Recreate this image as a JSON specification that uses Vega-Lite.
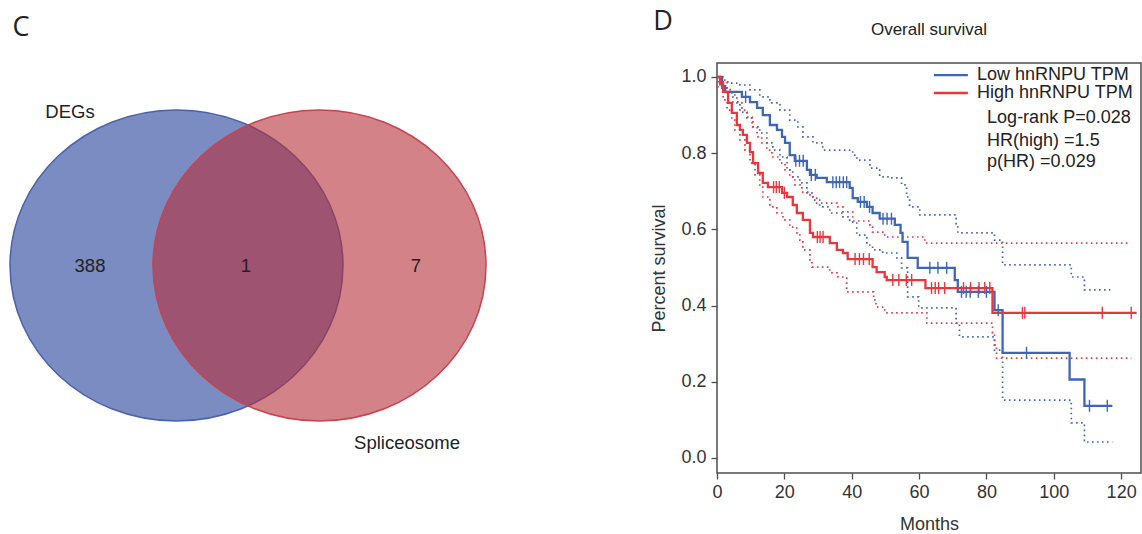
{
  "$schema": "https://vega.github.io/schema/vega-lite/v6.json",
  "padding": 0,
  "bounds": "flush",
  "spacing": 77,
  "config": {
    "font": "Liberation Sans",
    "view": {"stroke": null}
  },
  "datasets": {
    "vframe": [{"x1": 0, "x2": 640, "y1": 0, "y2": 534}],
    "venn": [
      {"set": "DEGs", "cx": 176.5, "cy": 265.5},
      {"set": "Spliceosome", "cx": 319.5, "cy": 265.5}
    ],
    "vlabels": [
      {"kind": "num", "label": "388", "x": 90, "y": 265.5},
      {"kind": "num", "label": "1", "x": 246, "y": 265.5},
      {"kind": "num", "label": "7", "x": 416, "y": 265.5},
      {"kind": "num", "label": "DEGs", "x": 70, "y": 112},
      {"kind": "num", "label": "Spliceosome", "x": 407, "y": 443},
      {"kind": "panel", "label": "C", "x": 21, "y": 28},
      {"kind": "panel", "label": "D", "x": 663, "y": 22}
    ],
    "curves": [
      {"g":"Low","k":"est","t":0,"s":1.0},{"g":"Low","k":"est","t":1.5,"s":0.976},{"g":"Low","k":"est","t":2.4,"s":0.961},{"g":"Low","k":"est","t":7.4,"s":0.948},{"g":"Low","k":"est","t":9.8,"s":0.934},{"g":"Low","k":"est","t":11.9,"s":0.919},{"g":"Low","k":"est","t":13.6,"s":0.900},{"g":"Low","k":"est","t":15.7,"s":0.874},{"g":"Low","k":"est","t":17.8,"s":0.861},{"g":"Low","k":"est","t":19.3,"s":0.843},{"g":"Low","k":"est","t":20.2,"s":0.827},{"g":"Low","k":"est","t":21.6,"s":0.795},{"g":"Low","k":"est","t":23.1,"s":0.780},{"g":"Low","k":"est","t":26.7,"s":0.756},{"g":"Low","k":"est","t":27.6,"s":0.743},{"g":"Low","k":"est","t":29.6,"s":0.735},{"g":"Low","k":"est","t":32.6,"s":0.724},{"g":"Low","k":"est","t":39.4,"s":0.709},{"g":"Low","k":"est","t":40.3,"s":0.682},{"g":"Low","k":"est","t":41.8,"s":0.672},{"g":"Low","k":"est","t":44.5,"s":0.659},{"g":"Low","k":"est","t":46.2,"s":0.643},{"g":"Low","k":"est","t":48.3,"s":0.628},{"g":"Low","k":"est","t":52.8,"s":0.612},{"g":"Low","k":"est","t":54.5,"s":0.591},{"g":"Low","k":"est","t":55.1,"s":0.567},{"g":"Low","k":"est","t":56.6,"s":0.525},{"g":"Low","k":"est","t":59.6,"s":0.499},{"g":"Low","k":"est","t":70.6,"s":0.467},{"g":"Low","k":"est","t":71.5,"s":0.436},{"g":"Low","k":"est","t":82.4,"s":0.388},{"g":"Low","k":"est","t":84.8,"s":0.276},{"g":"Low","k":"est","t":104.7,"s":0.206},{"g":"Low","k":"est","t":109.1,"s":0.137},{"g":"Low","k":"est","t":117.4,"s":0.137},
      {"g":"Low","k":"up","t":0,"s":1.0},{"g":"Low","k":"up","t":1.8,"s":0.987},{"g":"Low","k":"up","t":3.9,"s":0.984},{"g":"Low","k":"up","t":6.8,"s":0.979},{"g":"Low","k":"up","t":9.8,"s":0.966},{"g":"Low","k":"up","t":12.7,"s":0.948},{"g":"Low","k":"up","t":15.7,"s":0.932},{"g":"Low","k":"up","t":18.7,"s":0.913},{"g":"Low","k":"up","t":21.6,"s":0.887},{"g":"Low","k":"up","t":24.0,"s":0.869},{"g":"Low","k":"up","t":25.5,"s":0.843},{"g":"Low","k":"up","t":28.5,"s":0.827},{"g":"Low","k":"up","t":31.4,"s":0.808},{"g":"Low","k":"up","t":40.3,"s":0.795},{"g":"Low","k":"up","t":41.5,"s":0.782},{"g":"Low","k":"up","t":45.4,"s":0.761},{"g":"Low","k":"up","t":48.3,"s":0.738},{"g":"Low","k":"up","t":51.3,"s":0.735},{"g":"Low","k":"up","t":54.8,"s":0.717},{"g":"Low","k":"up","t":56.3,"s":0.685},{"g":"Low","k":"up","t":57.2,"s":0.659},{"g":"Low","k":"up","t":60.2,"s":0.638},{"g":"Low","k":"up","t":71.0,"s":0.612},{"g":"Low","k":"up","t":71.5,"s":0.591},{"g":"Low","k":"up","t":82.4,"s":0.572},{"g":"Low","k":"up","t":84.8,"s":0.507},{"g":"Low","k":"up","t":105.2,"s":0.475},{"g":"Low","k":"up","t":109.1,"s":0.441},{"g":"Low","k":"up","t":116.8,"s":0.441},
      {"g":"Low","k":"lo","t":0,"s":1.0},{"g":"Low","k":"lo","t":0.9,"s":0.971},{"g":"Low","k":"lo","t":3.0,"s":0.948},{"g":"Low","k":"lo","t":4.7,"s":0.932},{"g":"Low","k":"lo","t":6.8,"s":0.908},{"g":"Low","k":"lo","t":8.9,"s":0.892},{"g":"Low","k":"lo","t":10.7,"s":0.869},{"g":"Low","k":"lo","t":12.7,"s":0.853},{"g":"Low","k":"lo","t":14.8,"s":0.827},{"g":"Low","k":"lo","t":16.6,"s":0.808},{"g":"Low","k":"lo","t":18.7,"s":0.790},{"g":"Low","k":"lo","t":20.8,"s":0.756},{"g":"Low","k":"lo","t":22.5,"s":0.738},{"g":"Low","k":"lo","t":24.6,"s":0.722},{"g":"Low","k":"lo","t":26.7,"s":0.696},{"g":"Low","k":"lo","t":28.5,"s":0.677},{"g":"Low","k":"lo","t":30.5,"s":0.659},{"g":"Low","k":"lo","t":33.5,"s":0.643},{"g":"Low","k":"lo","t":37.4,"s":0.633},{"g":"Low","k":"lo","t":39.4,"s":0.619},{"g":"Low","k":"lo","t":41.5,"s":0.585},{"g":"Low","k":"lo","t":44.5,"s":0.559},{"g":"Low","k":"lo","t":46.2,"s":0.546},{"g":"Low","k":"lo","t":49.2,"s":0.538},{"g":"Low","k":"lo","t":53.4,"s":0.525},{"g":"Low","k":"lo","t":54.8,"s":0.499},{"g":"Low","k":"lo","t":56.6,"s":0.423},{"g":"Low","k":"lo","t":59.9,"s":0.394},{"g":"Low","k":"lo","t":71.0,"s":0.354},{"g":"Low","k":"lo","t":72.0,"s":0.318},{"g":"Low","k":"lo","t":82.4,"s":0.283},{"g":"Low","k":"lo","t":84.8,"s":0.152},{"g":"Low","k":"lo","t":105.2,"s":0.092},{"g":"Low","k":"lo","t":109.1,"s":0.042},{"g":"Low","k":"lo","t":117.4,"s":0.042},
      {"g":"High","k":"est","t":0,"s":1.0},{"g":"High","k":"est","t":0.9,"s":0.984},{"g":"High","k":"est","t":1.8,"s":0.961},{"g":"High","k":"est","t":3.3,"s":0.932},{"g":"High","k":"est","t":4.4,"s":0.906},{"g":"High","k":"est","t":5.9,"s":0.874},{"g":"High","k":"est","t":6.8,"s":0.861},{"g":"High","k":"est","t":7.7,"s":0.848},{"g":"High","k":"est","t":8.9,"s":0.827},{"g":"High","k":"est","t":9.8,"s":0.803},{"g":"High","k":"est","t":10.7,"s":0.774},{"g":"High","k":"est","t":12.2,"s":0.748},{"g":"High","k":"est","t":13.6,"s":0.722},{"g":"High","k":"est","t":15.1,"s":0.711},{"g":"High","k":"est","t":19.3,"s":0.696},{"g":"High","k":"est","t":20.8,"s":0.685},{"g":"High","k":"est","t":22.5,"s":0.664},{"g":"High","k":"est","t":23.7,"s":0.643},{"g":"High","k":"est","t":25.5,"s":0.625},{"g":"High","k":"est","t":27.6,"s":0.591},{"g":"High","k":"est","t":28.5,"s":0.580},{"g":"High","k":"est","t":33.5,"s":0.564},{"g":"High","k":"est","t":35.6,"s":0.546},{"g":"High","k":"est","t":37.4,"s":0.538},{"g":"High","k":"est","t":38.8,"s":0.522},{"g":"High","k":"est","t":46.2,"s":0.501},{"g":"High","k":"est","t":47.4,"s":0.488},{"g":"High","k":"est","t":49.8,"s":0.475},{"g":"High","k":"est","t":50.4,"s":0.467},{"g":"High","k":"est","t":61.9,"s":0.446},{"g":"High","k":"est","t":81.8,"s":0.381},{"g":"High","k":"est","t":124.6,"s":0.381},
      {"g":"High","k":"up","t":0,"s":1.0},{"g":"High","k":"up","t":0.9,"s":0.992},{"g":"High","k":"up","t":3.0,"s":0.971},{"g":"High","k":"up","t":3.9,"s":0.958},{"g":"High","k":"up","t":5.3,"s":0.945},{"g":"High","k":"up","t":6.2,"s":0.932},{"g":"High","k":"up","t":7.4,"s":0.913},{"g":"High","k":"up","t":8.9,"s":0.895},{"g":"High","k":"up","t":10.4,"s":0.869},{"g":"High","k":"up","t":11.9,"s":0.843},{"g":"High","k":"up","t":13.3,"s":0.827},{"g":"High","k":"up","t":14.8,"s":0.808},{"g":"High","k":"up","t":16.3,"s":0.790},{"g":"High","k":"up","t":18.7,"s":0.774},{"g":"High","k":"up","t":20.2,"s":0.756},{"g":"High","k":"up","t":21.6,"s":0.738},{"g":"High","k":"up","t":23.1,"s":0.717},{"g":"High","k":"up","t":25.2,"s":0.698},{"g":"High","k":"up","t":27.6,"s":0.685},{"g":"High","k":"up","t":29.6,"s":0.669},{"g":"High","k":"up","t":35.6,"s":0.659},{"g":"High","k":"up","t":37.4,"s":0.646},{"g":"High","k":"up","t":40.3,"s":0.622},{"g":"High","k":"up","t":45.4,"s":0.606},{"g":"High","k":"up","t":46.2,"s":0.593},{"g":"High","k":"up","t":49.8,"s":0.580},{"g":"High","k":"up","t":61.7,"s":0.564},{"g":"High","k":"up","t":122.0,"s":0.564},
      {"g":"High","k":"lo","t":0,"s":1.0},{"g":"High","k":"lo","t":0.3,"s":0.974},{"g":"High","k":"lo","t":1.8,"s":0.940},{"g":"High","k":"lo","t":3.0,"s":0.913},{"g":"High","k":"lo","t":4.4,"s":0.887},{"g":"High","k":"lo","t":5.3,"s":0.861},{"g":"High","k":"lo","t":6.8,"s":0.835},{"g":"High","k":"lo","t":8.3,"s":0.808},{"g":"High","k":"lo","t":9.8,"s":0.774},{"g":"High","k":"lo","t":11.3,"s":0.743},{"g":"High","k":"lo","t":12.7,"s":0.711},{"g":"High","k":"lo","t":13.6,"s":0.685},{"g":"High","k":"lo","t":15.7,"s":0.659},{"g":"High","k":"lo","t":17.8,"s":0.643},{"g":"High","k":"lo","t":19.6,"s":0.625},{"g":"High","k":"lo","t":21.6,"s":0.606},{"g":"High","k":"lo","t":23.7,"s":0.591},{"g":"High","k":"lo","t":24.6,"s":0.572},{"g":"High","k":"lo","t":25.5,"s":0.546},{"g":"High","k":"lo","t":27.6,"s":0.520},{"g":"High","k":"lo","t":28.2,"s":0.501},{"g":"High","k":"lo","t":33.5,"s":0.486},{"g":"High","k":"lo","t":35.9,"s":0.475},{"g":"High","k":"lo","t":38.5,"s":0.436},{"g":"High","k":"lo","t":46.5,"s":0.415},{"g":"High","k":"lo","t":47.2,"s":0.396},{"g":"High","k":"lo","t":49.8,"s":0.381},{"g":"High","k":"lo","t":62.3,"s":0.354},{"g":"High","k":"lo","t":81.8,"s":0.328},{"g":"High","k":"lo","t":82.4,"s":0.297},{"g":"High","k":"lo","t":83.0,"s":0.262},{"g":"High","k":"lo","t":123.0,"s":0.262}
    ],
    "censor": [
      {"g":"Low","t":8.5,"s":0.948},{"g":"Low","t":23.4,"s":0.780},{"g":"Low","t":24.5,"s":0.780},{"g":"Low","t":25.6,"s":0.780},{"g":"Low","t":28.0,"s":0.743},{"g":"Low","t":29.2,"s":0.743},{"g":"Low","t":34.4,"s":0.724},{"g":"Low","t":35.4,"s":0.724},{"g":"Low","t":36.4,"s":0.724},{"g":"Low","t":37.5,"s":0.724},{"g":"Low","t":38.5,"s":0.724},{"g":"Low","t":42.6,"s":0.672},{"g":"Low","t":43.7,"s":0.672},{"g":"Low","t":45.3,"s":0.659},{"g":"Low","t":49.3,"s":0.628},{"g":"Low","t":50.5,"s":0.628},{"g":"Low","t":51.8,"s":0.628},{"g":"Low","t":63.2,"s":0.499},{"g":"Low","t":65.6,"s":0.499},{"g":"Low","t":68.2,"s":0.499},{"g":"Low","t":72.6,"s":0.436},{"g":"Low","t":74.0,"s":0.436},{"g":"Low","t":75.2,"s":0.436},{"g":"Low","t":77.6,"s":0.436},{"g":"Low","t":80.0,"s":0.436},{"g":"Low","t":83.5,"s":0.388},{"g":"Low","t":91.9,"s":0.276},{"g":"Low","t":110.6,"s":0.137},{"g":"Low","t":115.9,"s":0.137},
      {"g":"High","t":16.8,"s":0.711},{"g":"High","t":17.6,"s":0.711},{"g":"High","t":18.5,"s":0.711},{"g":"High","t":20.0,"s":0.696},{"g":"High","t":29.8,"s":0.580},{"g":"High","t":30.6,"s":0.580},{"g":"High","t":31.5,"s":0.580},{"g":"High","t":41.0,"s":0.522},{"g":"High","t":42.3,"s":0.522},{"g":"High","t":43.5,"s":0.522},{"g":"High","t":45.2,"s":0.522},{"g":"High","t":52.2,"s":0.467},{"g":"High","t":54.0,"s":0.467},{"g":"High","t":56.2,"s":0.467},{"g":"High","t":57.8,"s":0.467},{"g":"High","t":63.7,"s":0.446},{"g":"High","t":64.8,"s":0.446},{"g":"High","t":65.8,"s":0.446},{"g":"High","t":67.6,"s":0.446},{"g":"High","t":73.2,"s":0.446},{"g":"High","t":75.3,"s":0.446},{"g":"High","t":77.8,"s":0.446},{"g":"High","t":79.5,"s":0.446},{"g":"High","t":81.0,"s":0.446},{"g":"High","t":90.7,"s":0.381},{"g":"High","t":91.4,"s":0.381},{"g":"High","t":114.4,"s":0.381},{"g":"High","t":123.0,"s":0.381}
    ],
    "legendlines": [
      {"g":"Low","t":64.4,"t2":74.5,"s":1.005},
      {"g":"High","t":64.4,"t2":74.5,"s":0.958}
    ],
    "notes": [
      {"label":"Low hnRNPU TPM","t":77.2,"s":1.005},
      {"label":"High hnRNPU TPM","t":77.2,"s":0.958},
      {"label":"Log-rank P=0.028","t":80.2,"s":0.892},
      {"label":"HR(high) =1.5","t":80.2,"s":0.832},
      {"label":"p(HR) =0.029","t":80.2,"s":0.777}
    ]
  },
  "hconcat": [
    {
      "width": 640,
      "height": 410,
      "view": {"stroke": null},
      "layer": [
        {
          "data": {"name": "vframe"},
          "mark": {"type": "rect", "fill": "#ffffff", "fillOpacity": 0},
          "encoding": {
            "x": {"field": "x1", "type": "quantitative", "scale": {"domain": [0, 640], "nice": false, "zero": false}, "axis": null},
            "x2": {"field": "x2"},
            "y": {"field": "y1", "type": "quantitative", "scale": {"domain": [63, 473], "reverse": true, "nice": false, "zero": false}, "axis": null},
            "y2": {"field": "y2"}
          }
        },
        {
          "data": {"name": "venn"},
          "transform": [{"filter": "datum.set === 'DEGs'"}],
          "mark": {"type": "point", "shape": "M-1,0A1,0.934,0,1,0,1,0A1,0.934,0,1,0,-1,0Z", "size": 110889, "filled": true, "fill": "#7b8cc2", "fillOpacity": 1, "stroke": "#4a62ad", "strokeWidth": 1.5, "strokeOpacity": 1, "opacity": 1},
          "encoding": {
            "x": {"field": "cx", "type": "quantitative", "scale": {"domain": [0, 640], "nice": false, "zero": false}, "axis": null},
            "y": {"field": "cy", "type": "quantitative", "scale": {"domain": [63, 473], "reverse": true, "nice": false, "zero": false}, "axis": null}
          }
        },
        {
          "data": {"name": "venn"},
          "transform": [{"filter": "datum.set === 'Spliceosome'"}],
          "mark": {"type": "point", "shape": "M-1,0A1,0.934,0,1,0,1,0A1,0.934,0,1,0,-1,0Z", "size": 110889, "filled": true, "fill": "#b52e38", "fillOpacity": 0.6, "stroke": "#c8424f", "strokeWidth": 1.5, "strokeOpacity": 1, "opacity": 1},
          "encoding": {
            "x": {"field": "cx", "type": "quantitative", "scale": {"domain": [0, 640], "nice": false, "zero": false}, "axis": null},
            "y": {"field": "cy", "type": "quantitative", "scale": {"domain": [63, 473], "reverse": true, "nice": false, "zero": false}, "axis": null}
          }
        },
        {
          "data": {"name": "vlabels"},
          "transform": [{"filter": "datum.kind === 'num'"}],
          "mark": {"type": "text", "fontSize": 18.5, "color": "#222222", "align": "center", "baseline": "middle"},
          "encoding": {
            "x": {"field": "x", "type": "quantitative", "scale": {"domain": [0, 640], "nice": false, "zero": false}, "axis": null},
            "y": {"field": "y", "type": "quantitative", "scale": {"domain": [63, 473], "reverse": true, "nice": false, "zero": false}, "axis": null},
            "text": {"field": "label"}
          }
        },
        {
          "data": {"name": "vlabels"},
          "transform": [{"filter": "datum.kind === 'panel'"}],
          "mark": {"type": "text", "fontSize": 27, "color": "#222222", "align": "center", "baseline": "middle", "font": "Open Sans", "fontWeight": "normal"},
          "encoding": {
            "x": {"field": "x", "type": "quantitative", "scale": {"domain": [0, 640], "nice": false, "zero": false}, "axis": null},
            "y": {"field": "y", "type": "quantitative", "scale": {"domain": [63, 473], "reverse": true, "nice": false, "zero": false}, "axis": null},
            "text": {"field": "label"}
          }
        }
      ]
    },
    {
      "width": 424,
      "height": 410,
      "view": {"stroke": "#4d4d4d", "strokeWidth": 1.5},
      "title": {"text": "Overall survival", "fontSize": 17, "fontWeight": "normal", "color": "#222222", "frame": "group", "anchor": "middle", "baseline": "bottom", "offset": 7},
      "encoding": {
        "x": {
          "field": "t", "type": "quantitative",
          "scale": {"domain": [0, 125.9], "nice": false, "zero": false},
          "axis": {"values": [0, 20, 40, 60, 80, 100, 120], "grid": false, "domain": false, "tickSize": 6, "tickColor": "#4d4d4d", "tickWidth": 1.3, "labelFontSize": 18, "labelColor": "#333333", "labelPadding": 4, "labelFlush": false, "title": "Months", "titleFontSize": 18, "titleFontWeight": "normal", "titleColor": "#333333", "titlePadding": 14}
        },
        "y": {
          "field": "s", "type": "quantitative",
          "scale": {"domain": [-0.0394, 1.0367], "nice": false, "zero": false},
          "axis": {"values": [0, 0.2, 0.4, 0.6, 0.8, 1.0], "format": ".1f", "grid": false, "domain": false, "tickSize": 6, "tickColor": "#4d4d4d", "tickWidth": 1.3, "labelFontSize": 18, "labelColor": "#333333", "labelPadding": 5, "title": "Percent survival", "titleFontSize": 18, "titleFontWeight": "normal", "titleColor": "#333333", "titlePadding": 12}
        }
      },
      "layer": [
        {
          "data": {"name": "curves"},
          "transform": [{"filter": "datum.k !== 'est'"}],
          "mark": {"type": "line", "interpolate": "step-after", "strokeDash": [1.6, 3.4], "strokeWidth": 1.7, "strokeCap": "butt"},
          "encoding": {
            "color": {"field": "g", "type": "nominal", "scale": {"domain": ["Low", "High"], "range": ["#3e66b8", "#e8383d"]}, "legend": null},
            "detail": {"field": "k"}
          }
        },
        {
          "data": {"name": "curves"},
          "transform": [{"filter": "datum.k === 'est'"}],
          "mark": {"type": "line", "interpolate": "step-after", "strokeWidth": 2.3},
          "encoding": {
            "color": {"field": "g", "type": "nominal", "scale": {"domain": ["Low", "High"], "range": ["#2f57a5", "#e4292e"]}, "legend": null}
          }
        },
        {
          "data": {"name": "censor"},
          "mark": {"type": "tick", "orient": "vertical", "size": 12, "thickness": 1.4, "opacity": 1},
          "encoding": {
            "color": {"field": "g", "type": "nominal", "scale": {"domain": ["Low", "High"], "range": ["#2f57a5", "#e4292e"]}, "legend": null}
          }
        },
        {
          "data": {"name": "legendlines"},
          "mark": {"type": "rule", "strokeWidth": 2.4},
          "encoding": {
            "x2": {"field": "t2"},
            "color": {"field": "g", "type": "nominal", "scale": {"domain": ["Low", "High"], "range": ["#2f57a5", "#e4292e"]}, "legend": null}
          }
        },
        {
          "data": {"name": "notes"},
          "mark": {"type": "text", "align": "left", "baseline": "middle", "fontSize": 18, "color": "#222222"},
          "encoding": {
            "text": {"field": "label"}
          }
        }
      ]
    }
  ]
}
